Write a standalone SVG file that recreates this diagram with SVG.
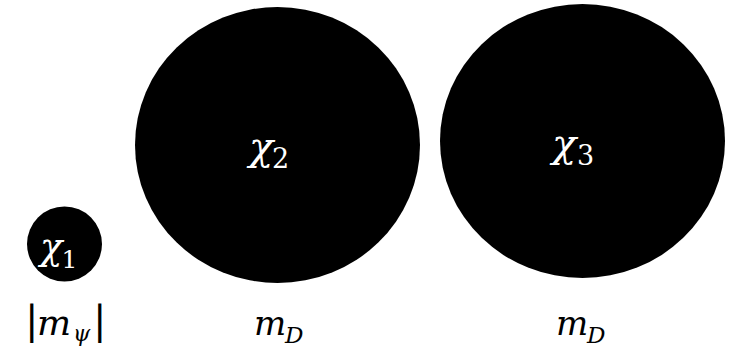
<svg xmlns="http://www.w3.org/2000/svg" width="735" height="348" viewBox="0 0 735 348">
<style>
.node{fill:#000;}
.in{fill:#fff;font-family:"DejaVu Serif","Liberation Serif",serif;}
.lab{fill:#000;font-family:"DejaVu Serif","Liberation Serif",serif;}
.it{font-style:italic;}
</style>
<rect width="735" height="348" fill="#fff"/>
<g id="chi1">
<circle class="node" cx="64.5" cy="244" r="37.5"/>
<text class="in"><tspan class="it" x="40" y="259" font-size="37">χ</tspan><tspan x="61.5" y="268" font-size="25">1</tspan></text>
</g>
<g id="chi2">
<ellipse class="node" cx="277.5" cy="145" rx="142.5" ry="138"/>
<text class="in"><tspan class="it" x="249" y="160" font-size="40">χ</tspan><tspan x="272" y="168" font-size="27">2</tspan></text>
</g>
<g id="chi3">
<ellipse class="node" cx="582.5" cy="141" rx="142.5" ry="137"/>
<text class="in"><tspan class="it" x="552" y="157" font-size="40">χ</tspan><tspan x="577" y="165" font-size="27">3</tspan></text>
</g>
<g id="labels">
<text class="lab"><tspan x="25" y="334" font-size="40">|</tspan><tspan class="it" x="37" y="335" font-size="36">m</tspan><tspan class="it" x="73" y="341" font-size="22">ψ</tspan><tspan x="93" y="334" font-size="40">|</tspan></text>
<text class="lab"><tspan class="it" x="254" y="335" font-size="34">m</tspan><tspan class="it" x="285" y="343" font-size="23">D</tspan></text>
<text class="lab"><tspan class="it" x="556" y="335" font-size="34">m</tspan><tspan class="it" x="587" y="343" font-size="23">D</tspan></text>
</g>
</svg>
